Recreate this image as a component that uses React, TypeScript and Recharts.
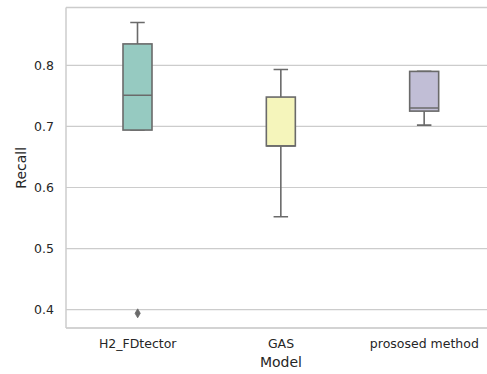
import { ComposedChart, Bar, Line, XAxis, YAxis, CartesianGrid, ReferenceLine } from 'recharts'

const models = ['H2_FDtector', 'GAS', 'prososed method']
const whiskerLow = [0.694, 0.552, 0.702]
const q1 = [0.694, 0.668, 0.725]
const median = [0.751, 0.668, 0.73]
const q3 = [0.835, 0.748, 0.79]
const whiskerHigh = [0.87, 0.793, 0.79]
const outliers: (number | null)[] = [0.394, null, null]
const yTicks = [0.4, 0.5, 0.6, 0.7, 0.8]

const fills = ['#96cac1', '#f5f5bb', '#c1bed6']
const lineColor = '#6a6a6a'
const gridColor = '#cccccc'
const textColor = '#262626'
const font = '"DejaVu Sans", sans-serif'
const yMin = 0.37
const yMax = 0.8946

const data = models.map((model, i) => ({
  model,
  whisker: [whiskerLow[i], whiskerHigh[i]],
  box: [q1[i], q3[i]],
  median: median[i],
  outlier: outliers[i],
  fill: fills[i],
}))

const WhiskerShape = (props: any) => {
  const { x, y, width, height } = props
  const cx = x + width / 2
  const cap = width / 4
  return (
    <g stroke={lineColor} strokeWidth={1.6}>
      <line x1={cx} x2={cx} y1={y} y2={y + height} />
      <line x1={cx - cap} x2={cx + cap} y1={y} y2={y} />
      <line x1={cx - cap} x2={cx + cap} y1={y + height} y2={y + height} />
    </g>
  )
}

const BoxShape = (props: any) => {
  const { x, y, width, height, payload } = props
  const [lo, hi] = payload.box
  const my = hi === lo ? y : y + ((hi - payload.median) / (hi - lo)) * height
  return (
    <g>
      <rect x={x} y={y} width={width} height={height} fill={payload.fill} stroke={lineColor} strokeWidth={1.6} />
      <line x1={x} x2={x + width} y1={my} y2={my} stroke={lineColor} strokeWidth={1.6} />
    </g>
  )
}

const Diamond = (props: any) => {
  const { cx, cy, value } = props
  if (value == null || cx == null || cy == null) return <g key={props.index} />
  return (
    <path
      key={props.index}
      d={`M${cx},${cy - 4.5} L${cx + 2.6},${cy} L${cx},${cy + 4.5} L${cx - 2.6},${cy} Z`}
      fill={lineColor}
      stroke={lineColor}
      strokeWidth={0.8}
    />
  )
}

export default function App() {
  return (
    <div style={{ position: 'absolute', left: 0, top: 0, width: 487, height: 374, overflow: 'hidden', background: '#fff' }}>
      <ComposedChart
        width={510}
        height={374}
        data={data}
        margin={{ top: 7.5, right: 14, left: 0, bottom: 0 }}
        style={{ fontFamily: font }}
      >
        <CartesianGrid vertical={false} stroke={gridColor} strokeWidth={1.2} />
        <XAxis
          dataKey="model"
          height={46}
          axisLine={{ stroke: gridColor, strokeWidth: 1.5 }}
          tickLine={false}
          tickMargin={5}
          tick={{ fill: textColor, fontSize: 12.5, fontFamily: font }}
          label={{ value: 'Model', position: 'insideBottom', offset: 7, fill: textColor, fontSize: 14, fontFamily: font }}
        />
        <XAxis xAxisId="box" dataKey="model" hide />
        <YAxis
          type="number"
          domain={[yMin, yMax]}
          allowDataOverflow
          ticks={yTicks}
          width={66}
          axisLine={{ stroke: gridColor, strokeWidth: 1.5 }}
          tickLine={false}
          tickMargin={6}
          tickFormatter={(v: number) => v.toFixed(1)}
          tick={{ fill: textColor, fontSize: 12.5, fontFamily: font }}
          label={{
            value: 'Recall',
            angle: -90,
            position: 'insideLeft',
            offset: 21,
            fill: textColor,
            fontSize: 14,
            fontFamily: font,
            style: { textAnchor: 'middle' },
          }}
        />
        <ReferenceLine y={yMax} stroke={gridColor} strokeWidth={1.5} />
        <Bar dataKey="whisker" barSize={29} shape={WhiskerShape} isAnimationActive={false} />
        <Bar dataKey="box" xAxisId="box" barSize={29} shape={BoxShape} isAnimationActive={false} />
        <Line
          dataKey="outlier"
          stroke="none"
          dot={Diamond}
          activeDot={false}
          connectNulls={false}
          isAnimationActive={false}
        />
      </ComposedChart>
    </div>
  )
}
